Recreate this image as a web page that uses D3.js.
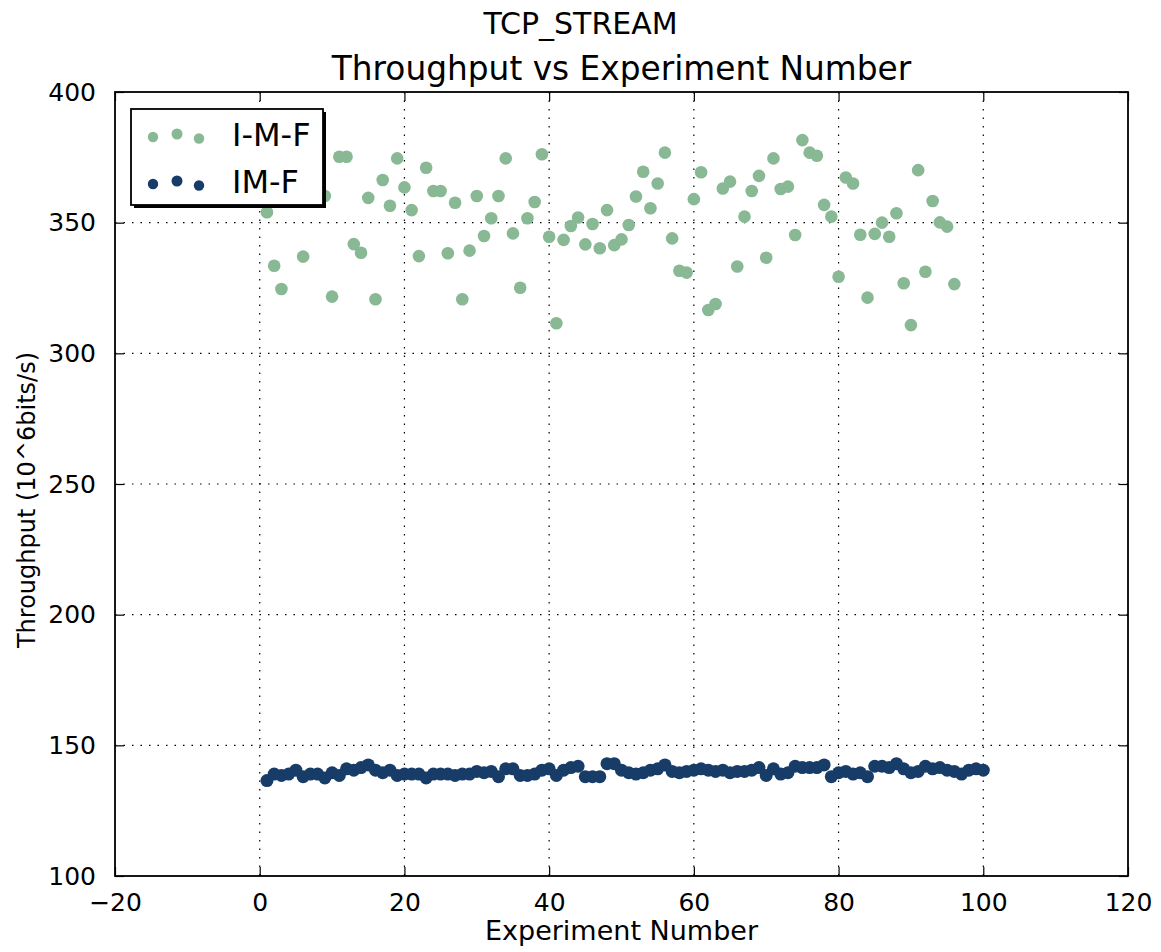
<!DOCTYPE html>
<html><head><meta charset="utf-8">
<script src="https://cdn.jsdelivr.net/npm/d3@7"></script>
<style>body{margin:0;background:#fff;} svg{display:block;} text{font-family:"DejaVu Sans",sans-serif;fill:#000;}</style>
</head><body><svg id="c" width="1161" height="952"></svg>
<script>
const suptitle = "TCP_STREAM";
const title = "Throughput vs Experiment Number";
const xLabel = "Experiment Number";
const yLabel = "Throughput (10^6bits/s)";
const xTicks = [-20, 0, 20, 40, 60, 80, 100, 120];
const yTicks = [100, 150, 200, 250, 300, 350, 400];
const seriesNames = ["I-M-F", "IM-F"];
const seriesColors = ["#88b894", "#173c68"];

const imfX = d3.range(1, 97);
const imfY = [354, 333.5, 324.6, 370, 366, 337, 372, 368, 360.2, 321.7,
  375.2, 375.2, 341.8, 338.5, 359.5, 320.7, 366.3, 356.5, 374.6, 363.5,
  354.8, 337.2, 371, 362.1, 362.1, 338.3, 357.6, 320.7, 339.3, 360.2,
  344.9, 351.7, 360.2, 374.6, 345.9, 325.1, 351.7, 357.9, 376.2, 344.6,
  311.5, 343.4, 348.7, 352, 341.7, 349.5, 340.2, 354.8, 341.4, 343.6,
  349.1, 360, 369.5, 355.5, 365, 376.8, 344, 331.6, 330.9, 359,
  369.3, 316.6, 318.9, 363.1, 365.7, 333.2, 352.3, 362.1, 367.9, 336.6,
  374.6, 362.9, 363.8, 345.3, 381.6, 376.8, 375.6, 356.8, 352.3, 329.3,
  367.3, 365, 345.4, 321.3, 345.7, 350, 344.6, 353.6, 326.8, 310.8,
  370.1, 331.2, 358.3, 350.1, 348.5, 326.5];

const imX = d3.range(1, 101);
const imY = [136.5, 139, 138.5, 139, 140.5, 138, 139, 139, 137.5, 139.5,
  138.5, 141, 140.5, 141.5, 142.5, 140.5, 139.5, 140.5, 138.5, 139,
  139, 139, 137.5, 139, 139, 139, 138.5, 139, 139, 140,
  139.5, 140, 138, 141, 141, 138.5, 138.5, 139, 140.5, 141,
  138.5, 140.5, 141.5, 142, 138, 138, 138, 143, 143, 140.5,
  139.5, 139, 139.5, 140.5, 141, 142.5, 140, 139.5, 140, 140.5,
  141, 140.5, 140, 140.5, 139.5, 140, 140, 140.5, 141.5, 138.5,
  141, 139, 139.5, 142, 141.5, 141.5, 141.5, 142.5, 138, 139.5,
  140, 139, 139.5, 138, 142, 142, 141.5, 143, 141, 139.5,
  140, 142, 141, 141.5, 140.5, 140, 139, 140.5, 141, 140.5];

const svg = d3.select("#c");
const L = 115, R = 1128, T = 92, B = 876;
const x = d3.scaleLinear().domain([-20, 120]).range([L, R]);
const y = d3.scaleLinear().domain([100, 400]).range([B, T]);

// grid
const grid = svg.append("g");
grid.selectAll("line.gx").data(xTicks.slice(1, -1)).join("line")
  .attr("x1", d => x(d)).attr("x2", d => x(d)).attr("y1", T).attr("y2", B)
  .attr("stroke", "#000").attr("stroke-width", 1.2).attr("stroke-dasharray", "1.5,7");
grid.selectAll("line.gy").data(yTicks.slice(1, -1)).join("line")
  .attr("y1", d => y(d)).attr("y2", d => y(d)).attr("x1", L).attr("x2", R)
  .attr("stroke", "#000").attr("stroke-width", 1.2).attr("stroke-dasharray", "1.5,7");

// axes with inward ticks
const tl = 9;
const axB = svg.append("g").attr("transform", `translate(0,${B})`)
  .call(d3.axisBottom(x).tickValues(xTicks).tickSize(-tl).tickPadding(tl + 8).tickFormat(d => d < 0 ? "\u2212" + Math.abs(d) : d));
const axT = svg.append("g").attr("transform", `translate(0,${T})`)
  .call(d3.axisTop(x).tickValues(xTicks).tickSize(-tl).tickFormat(""));
const axL = svg.append("g").attr("transform", `translate(${L},0)`)
  .call(d3.axisLeft(y).tickValues(yTicks).tickSize(-tl).tickPadding(tl + 10));
const axR = svg.append("g").attr("transform", `translate(${R},0)`)
  .call(d3.axisRight(y).tickValues(yTicks).tickSize(-tl).tickFormat(""));
[axB, axT, axL, axR].forEach(a => {
  a.select(".domain").remove();
  a.selectAll(".tick line").attr("stroke", "#000").attr("stroke-width", 1.2);
  a.selectAll("text").style("font-family", "DejaVu Sans").style("font-size", "25px").attr("fill", "#000");
});

// points
svg.append("g").selectAll("circle").data(imfX.map((d, i) => [d, imfY[i]])).join("circle")
  .attr("cx", d => x(d[0])).attr("cy", d => y(d[1])).attr("r", 6.3).attr("fill", seriesColors[0]);
svg.append("g").selectAll("circle").data(imX.map((d, i) => [d, imY[i]])).join("circle")
  .attr("cx", d => x(d[0])).attr("cy", d => y(d[1])).attr("r", 6.5).attr("fill", seriesColors[1]);

// frame
svg.append("rect").attr("x", L).attr("y", T).attr("width", R - L).attr("height", B - T)
  .attr("fill", "none").attr("stroke", "#000").attr("stroke-width", 1.8);

// legend
const lg = svg.append("g");
lg.append("rect").attr("x", 134).attr("y", 112).attr("width", 192).attr("height", 96).attr("fill", "#000");
lg.append("rect").attr("x", 131).attr("y", 109).attr("width", 192).attr("height", 96)
  .attr("fill", "#fff").attr("stroke", "#000").attr("stroke-width", 1.8);
const offs = [[153, 3, 5.2], [177, 0, 5.5], [199, 4.5, 5.2]];
seriesNames.forEach((n, i) => {
  const cy = 134 + i * 47;
  offs.forEach(o => lg.append("circle").attr("cx", o[0]).attr("cy", cy + o[1]).attr("r", o[2]).attr("fill", seriesColors[i]));
  lg.append("text").attr("x", 232).attr("y", cy + 12).style("font-size", "32px").text(n);
});

// titles
svg.append("text").attr("x", 580.5).attr("y", 34).attr("text-anchor", "middle").style("font-size", "30px").text(suptitle);
svg.append("text").attr("x", (L + R) / 2).attr("y", 80).attr("text-anchor", "middle").style("font-size", "32.8px").text(title);
svg.append("text").attr("x", (L + R) / 2).attr("y", 940).attr("text-anchor", "middle").style("font-size", "27px").text(xLabel);
svg.append("text").attr("transform", `translate(35,500) rotate(-90)`).attr("text-anchor", "middle").style("font-size", "24px").text(yLabel);
</script></body></html>
